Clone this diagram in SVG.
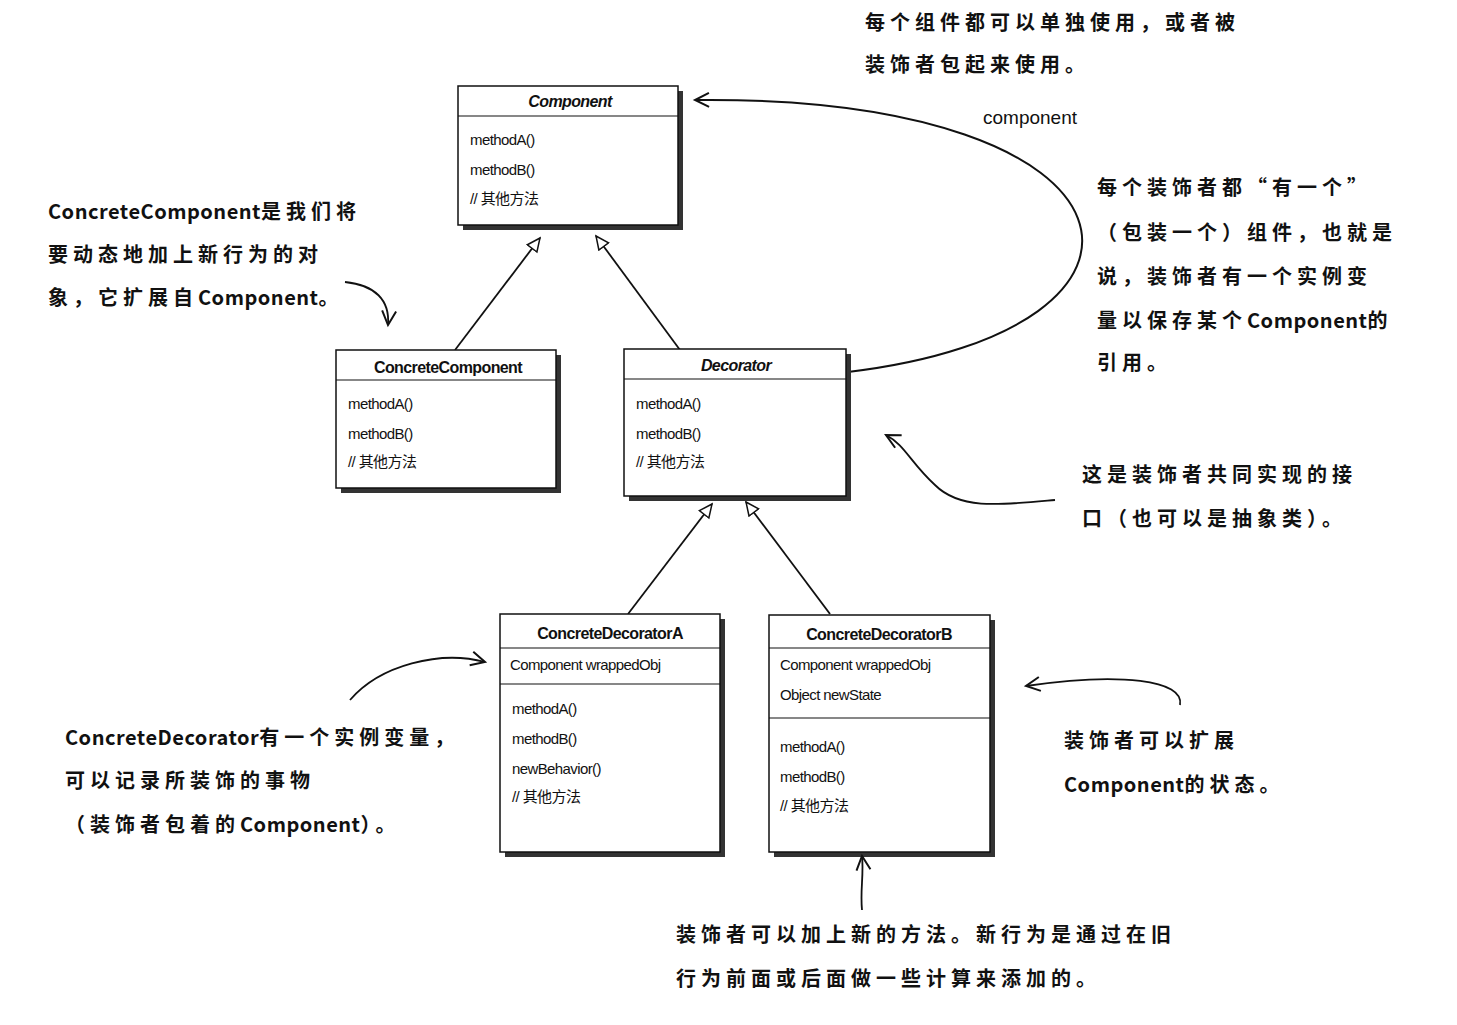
<svg xmlns="http://www.w3.org/2000/svg" width="1457" height="1025" viewBox="0 0 1457 1025">
<style>
.box{fill:#fff;stroke:#111;stroke-width:1.5}
.sh{fill:#333}
.ln{stroke:#111;stroke-width:1.2}
.t{font-family:"Liberation Sans",Arial,"Noto Sans CJK SC",sans-serif;font-size:15px;fill:#111;letter-spacing:-0.6px}
.h{font-weight:bold;font-size:16px}
.i{font-style:italic}
.n{font-family:"Noto Sans CJK SC","Liberation Sans",sans-serif;font-size:20px;font-weight:bold;fill:#111;letter-spacing:5px}
.l{letter-spacing:0.5px}
.c{fill:none;stroke:#111;stroke-width:2}
.a{fill:none;stroke:#111;stroke-width:1.8}
</style>
<defs>
<marker id="tri" markerWidth="16" markerHeight="16" refX="14" refY="7" orient="auto" markerUnits="userSpaceOnUse"><path d="M1,1 L14,7 L1,13 Z" fill="#fff" stroke="#111" stroke-width="1.5"/></marker>
<marker id="oa" markerWidth="22" markerHeight="22" refX="16" refY="9" orient="auto" markerUnits="userSpaceOnUse"><path d="M2,2 L16,9 L2,16" fill="none" stroke="#111" stroke-width="2"/></marker>
</defs>
<rect width="1457" height="1025" fill="#fff"/>

<g id="connectors">
<line class="a" x1="455" y1="350" x2="540" y2="238" marker-end="url(#tri)"/>
<line class="a" x1="680" y1="350" x2="596" y2="236" marker-end="url(#tri)"/>
<line class="a" x1="628" y1="614" x2="712" y2="504" marker-end="url(#tri)"/>
<line class="a" x1="830" y1="614" x2="746" y2="502" marker-end="url(#tri)"/>
<path class="c" d="M848,372 C1200,330 1160,95 695,100" marker-end="url(#oa)"/>
<text x="983" y="124" class="t" style="font-size:19px;letter-spacing:0">component</text>
</g>

<g id="Component">
<rect class="sh" x="463" y="91" width="220" height="139"/>
<rect class="box" x="458" y="86" width="220" height="139"/>
<line class="ln" x1="458" y1="116" x2="678" y2="116"/>
<text x="570" y="107" class="t h i" text-anchor="middle">Component</text>
<text x="470" y="145" class="t">methodA()</text>
<text x="470" y="175" class="t">methodB()</text>
<text x="470" y="204" class="t">// 其他方法</text>
</g>

<g id="ConcreteComponent">
<rect class="sh" x="341" y="355" width="220" height="138"/>
<rect class="box" x="336" y="350" width="220" height="138"/>
<line class="ln" x1="336" y1="380" x2="556" y2="380"/>
<text x="448" y="373" class="t h" text-anchor="middle">ConcreteComponent</text>
<text x="348" y="409" class="t">methodA()</text>
<text x="348" y="439" class="t">methodB()</text>
<text x="348" y="467" class="t">// 其他方法</text>
</g>

<g id="Decorator">
<rect class="sh" x="629" y="354" width="222" height="147"/>
<rect class="box" x="624" y="349" width="222" height="147"/>
<line class="ln" x1="624" y1="379" x2="846" y2="379"/>
<text x="736" y="371" class="t h i" text-anchor="middle">Decorator</text>
<text x="636" y="409" class="t">methodA()</text>
<text x="636" y="439" class="t">methodB()</text>
<text x="636" y="467" class="t">// 其他方法</text>
</g>

<g id="ConcreteDecoratorA">
<rect class="sh" x="505" y="619" width="220" height="238"/>
<rect class="box" x="500" y="614" width="220" height="238"/>
<line class="ln" x1="500" y1="648" x2="720" y2="648"/>
<line class="ln" x1="500" y1="684" x2="720" y2="684"/>
<text x="610" y="639" class="t h" text-anchor="middle">ConcreteDecoratorA</text>
<text x="510" y="670" class="t">Component wrappedObj</text>
<text x="512" y="714" class="t">methodA()</text>
<text x="512" y="744" class="t">methodB()</text>
<text x="512" y="774" class="t">newBehavior()</text>
<text x="512" y="802" class="t">// 其他方法</text>
</g>

<g id="ConcreteDecoratorB">
<rect class="sh" x="774" y="620" width="221" height="237"/>
<rect class="box" x="769" y="615" width="221" height="237"/>
<line class="ln" x1="769" y1="648" x2="990" y2="648"/>
<line class="ln" x1="769" y1="718" x2="990" y2="718"/>
<text x="879" y="640" class="t h" text-anchor="middle">ConcreteDecoratorB</text>
<text x="780" y="670" class="t">Component wrappedObj</text>
<text x="780" y="700" class="t">Object newState</text>
<text x="780" y="752" class="t">methodA()</text>
<text x="780" y="782" class="t">methodB()</text>
<text x="780" y="811" class="t">// 其他方法</text>
</g>

<g id="notes">
<text class="n" x="865" y="30">每个组件都可以单独使用，或者被</text>
<text class="n" x="865" y="72">装饰者包起来使用。</text>

<text class="n" x="48" y="219"><tspan class="l">ConcreteComponent</tspan>是我们将</text>
<text class="n" x="48" y="262">要动态地加上新行为的对</text>
<text class="n" x="48" y="305">象，它扩展自<tspan class="l">Component</tspan>。</text>
<path class="a" d="M345,282 C375,285 390,300 388,325" marker-end="url(#oa)"/>

<text class="n" x="1097" y="195">每个装饰者都“有一个”</text>
<text class="n" x="1097" y="240">（包装一个）组件，也就是</text>
<text class="n" x="1097" y="284">说，装饰者有一个实例变</text>
<text class="n" x="1097" y="328">量以保存某个<tspan class="l">Component</tspan>的</text>
<text class="n" x="1097" y="370">引用。</text>

<text class="n" x="1082" y="482">这是装饰者共同实现的接</text>
<text class="n" x="1082" y="526">口（也可以是抽象类）。</text>
<path class="a" d="M1055,500 C1000,505 960,510 935,485 C910,462 905,445 886,435" marker-end="url(#oa)"/>

<text class="n" x="65" y="745"><tspan class="l">ConcreteDecorator</tspan>有一个实例变量，</text>
<text class="n" x="65" y="788">可以记录所装饰的事物</text>
<text class="n" x="65" y="832">（装饰者包着的<tspan class="l">Component</tspan>）。</text>
<path class="a" d="M350,700 C380,665 440,650 485,662" marker-end="url(#oa)"/>

<text class="n" x="1064" y="748">装饰者可以扩展</text>
<text class="n" x="1064" y="792"><tspan class="l">Component</tspan>的状态。</text>
<path class="a" d="M1180,705 C1185,680 1120,672 1026,686" marker-end="url(#oa)"/>

<text class="n" x="676" y="942">装饰者可以加上新的方法。新行为是通过在旧</text>
<text class="n" x="676" y="986">行为前面或后面做一些计算来添加的。</text>
<path class="a" d="M862,910 C860,890 864,875 862,856" marker-end="url(#oa)"/>
</g>
</svg>
